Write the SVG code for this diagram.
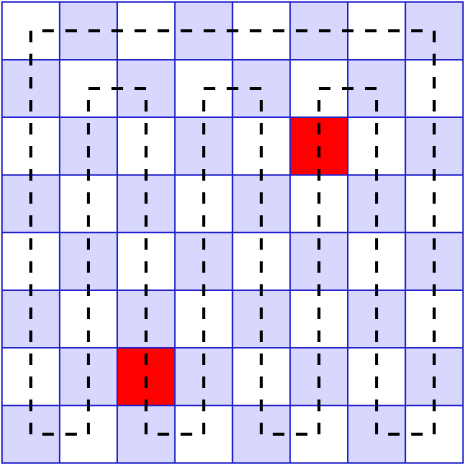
<svg xmlns="http://www.w3.org/2000/svg" width="466" height="466" viewBox="0 0 466 466">
<defs>
<style>
.w{fill:#ffffff}
.l{fill:#d8d8ff}
.r{fill:#ff0000}
.grid{fill:none;stroke:#2222cc;stroke-width:1.5}
.path{fill:none;stroke:#000;stroke-width:3;stroke-dasharray:11.525 11.525}
</style>
</defs>
<rect x="0" y="0" width="466" height="466" fill="#fff"/>
<g id="board">
<g id="cells">
<rect class="l" x="59.625" y="2" width="57.625" height="57.625"/><rect class="l" x="174.875" y="2" width="57.625" height="57.625"/><rect class="l" x="290.125" y="2" width="57.625" height="57.625"/><rect class="l" x="405.375" y="2" width="57.625" height="57.625"/>
<rect class="l" x="2" y="59.625" width="57.625" height="57.625"/><rect class="l" x="117.25" y="59.625" width="57.625" height="57.625"/><rect class="l" x="232.5" y="59.625" width="57.625" height="57.625"/><rect class="l" x="347.75" y="59.625" width="57.625" height="57.625"/>
<rect class="l" x="59.625" y="117.25" width="57.625" height="57.625"/><rect class="l" x="174.875" y="117.25" width="57.625" height="57.625"/><rect class="r" x="290.125" y="117.25" width="57.625" height="57.625"/><rect class="l" x="405.375" y="117.25" width="57.625" height="57.625"/>
<rect class="l" x="2" y="174.875" width="57.625" height="57.625"/><rect class="l" x="117.25" y="174.875" width="57.625" height="57.625"/><rect class="l" x="232.5" y="174.875" width="57.625" height="57.625"/><rect class="l" x="347.75" y="174.875" width="57.625" height="57.625"/>
<rect class="l" x="59.625" y="232.5" width="57.625" height="57.625"/><rect class="l" x="174.875" y="232.5" width="57.625" height="57.625"/><rect class="l" x="290.125" y="232.5" width="57.625" height="57.625"/><rect class="l" x="405.375" y="232.5" width="57.625" height="57.625"/>
<rect class="l" x="2" y="290.125" width="57.625" height="57.625"/><rect class="l" x="117.25" y="290.125" width="57.625" height="57.625"/><rect class="l" x="232.5" y="290.125" width="57.625" height="57.625"/><rect class="l" x="347.75" y="290.125" width="57.625" height="57.625"/>
<rect class="l" x="59.625" y="347.75" width="57.625" height="57.625"/><rect class="r" x="117.25" y="347.75" width="57.625" height="57.625"/><rect class="l" x="174.875" y="347.75" width="57.625" height="57.625"/><rect class="l" x="290.125" y="347.75" width="57.625" height="57.625"/><rect class="l" x="405.375" y="347.75" width="57.625" height="57.625"/>
<rect class="l" x="2" y="405.375" width="57.625" height="57.625"/><rect class="l" x="117.25" y="405.375" width="57.625" height="57.625"/><rect class="l" x="232.5" y="405.375" width="57.625" height="57.625"/><rect class="l" x="347.75" y="405.375" width="57.625" height="57.625"/>
</g>
<path class="grid" d="M2 2H463V463H2Z M59.625 2V463 M117.25 2V463 M174.875 2V463 M232.5 2V463 M290.125 2V463 M347.75 2V463 M405.375 2V463 M2 59.625H463 M2 117.25H463 M2 174.875H463 M2 232.5H463 M2 290.125H463 M2 347.75H463 M2 405.375H463"/>
</g>
<g id="connectors">
<path class="path" d="M30.8125 30.8125V434.1875H88.4375V88.4375H146.0625V434.1875H203.6875V88.4375H261.3125V434.1875H318.9375V88.4375H376.5625V434.1875H434.1875V30.8125Z"/>
</g>
</svg>
